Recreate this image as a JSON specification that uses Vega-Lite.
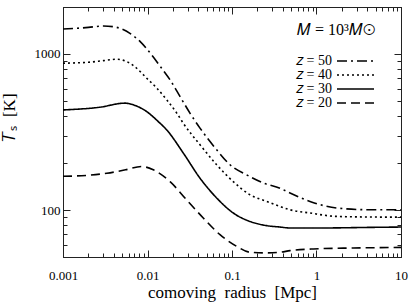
{
  "$schema": "https://vega.github.io/schema/vega-lite/v6.json",
  "width": 338,
  "height": 250,
  "autosize": {"type": "none"},
  "padding": {"left": 63, "top": 7, "right": 8, "bottom": 47},
  "config": {
    "font": "Liberation Serif",
    "view": {"stroke": "#222", "strokeWidth": 1},
    "axis": {"domainColor": "#222", "tickColor": "#222", "labelColor": "black", "titleColor": "black", "labelFontSize": 13, "grid": false, "titleFontWeight": "normal", "labelFont": "Liberation Serif", "titleFont": "Liberation Serif", "tickWidth": 1}
  },
  "data": {
    "values": [
      {"z": "𝑧 = 50", "r": 0.001, "T": 1445}, {"z": "𝑧 = 50", "r": 0.002, "T": 1480}, {"z": "𝑧 = 50", "r": 0.003, "T": 1511}, {"z": "𝑧 = 50", "r": 0.0041, "T": 1490}, {"z": "𝑧 = 50", "r": 0.0062, "T": 1356}, {"z": "𝑧 = 50", "r": 0.0082, "T": 1199}, {"z": "𝑧 = 50", "r": 0.0112, "T": 986}, {"z": "𝑧 = 50", "r": 0.0147, "T": 810}, {"z": "𝑧 = 50", "r": 0.0185, "T": 682}, {"z": "𝑧 = 50", "r": 0.0243, "T": 533}, {"z": "𝑧 = 50", "r": 0.0318, "T": 418}, {"z": "𝑧 = 50", "r": 0.0418, "T": 335}, {"z": "𝑧 = 50", "r": 0.0659, "T": 243}, {"z": "𝑧 = 50", "r": 0.0947, "T": 195}, {"z": "𝑧 = 50", "r": 0.149, "T": 168}, {"z": "𝑧 = 50", "r": 0.235, "T": 149}, {"z": "𝑧 = 50", "r": 0.37, "T": 138}, {"z": "𝑧 = 50", "r": 0.486, "T": 128.5}, {"z": "𝑧 = 50", "r": 0.837, "T": 113.5}, {"z": "𝑧 = 50", "r": 1.73, "T": 103}, {"z": "𝑧 = 50", "r": 4.3, "T": 100.4}, {"z": "𝑧 = 50", "r": 10, "T": 100.4},
      {"z": "𝑧 = 40", "r": 0.001, "T": 873}, {"z": "𝑧 = 40", "r": 0.002, "T": 885}, {"z": "𝑧 = 40", "r": 0.003, "T": 906}, {"z": "𝑧 = 40", "r": 0.0043, "T": 925}, {"z": "𝑧 = 40", "r": 0.0057, "T": 893}, {"z": "𝑧 = 40", "r": 0.00745, "T": 810}, {"z": "𝑧 = 40", "r": 0.0098, "T": 699}, {"z": "𝑧 = 40", "r": 0.0129, "T": 604}, {"z": "𝑧 = 40", "r": 0.0169, "T": 508}, {"z": "𝑧 = 40", "r": 0.0222, "T": 418}, {"z": "𝑧 = 40", "r": 0.0265, "T": 360}, {"z": "𝑧 = 40", "r": 0.0418, "T": 262}, {"z": "𝑧 = 40", "r": 0.0659, "T": 195}, {"z": "𝑧 = 40", "r": 0.1035, "T": 152}, {"z": "𝑧 = 40", "r": 0.163, "T": 125.3}, {"z": "𝑧 = 40", "r": 0.258, "T": 113.5}, {"z": "𝑧 = 40", "r": 0.37, "T": 105.4}, {"z": "𝑧 = 40", "r": 0.486, "T": 100.4}, {"z": "𝑧 = 40", "r": 0.837, "T": 95.7}, {"z": "𝑧 = 40", "r": 1.73, "T": 91}, {"z": "𝑧 = 40", "r": 4.3, "T": 90.2}, {"z": "𝑧 = 40", "r": 10, "T": 90},
      {"z": "𝑧 = 30", "r": 0.001, "T": 438}, {"z": "𝑧 = 30", "r": 0.00274, "T": 456}, {"z": "𝑧 = 30", "r": 0.0054, "T": 484}, {"z": "𝑧 = 30", "r": 0.0068, "T": 472}, {"z": "𝑧 = 30", "r": 0.0098, "T": 427}, {"z": "𝑧 = 30", "r": 0.0134, "T": 369}, {"z": "𝑧 = 30", "r": 0.0169, "T": 326}, {"z": "𝑧 = 30", "r": 0.0265, "T": 232}, {"z": "𝑧 = 30", "r": 0.0418, "T": 160}, {"z": "𝑧 = 30", "r": 0.0659, "T": 119.4}, {"z": "𝑧 = 30", "r": 0.1035, "T": 95.7}, {"z": "𝑧 = 30", "r": 0.163, "T": 84.5}, {"z": "𝑧 = 30", "r": 0.258, "T": 79.4}, {"z": "𝑧 = 30", "r": 0.37, "T": 77.8}, {"z": "𝑧 = 30", "r": 0.486, "T": 76.7}, {"z": "𝑧 = 30", "r": 1.1, "T": 76.7}, {"z": "𝑧 = 30", "r": 4.3, "T": 77.4}, {"z": "𝑧 = 30", "r": 10, "T": 77.8},
      {"z": "𝑧 = 20", "r": 0.001, "T": 164.5}, {"z": "𝑧 = 20", "r": 0.002, "T": 167}, {"z": "𝑧 = 20", "r": 0.0033, "T": 172}, {"z": "𝑧 = 20", "r": 0.0055, "T": 181}, {"z": "𝑧 = 20", "r": 0.0085, "T": 190}, {"z": "𝑧 = 20", "r": 0.0117, "T": 181}, {"z": "𝑧 = 20", "r": 0.0185, "T": 152}, {"z": "𝑧 = 20", "r": 0.0291, "T": 116}, {"z": "𝑧 = 20", "r": 0.0457, "T": 88.9}, {"z": "𝑧 = 20", "r": 0.0721, "T": 69.5}, {"z": "𝑧 = 20", "r": 0.1137, "T": 58.5}, {"z": "𝑧 = 20", "r": 0.163, "T": 53.6}, {"z": "𝑧 = 20", "r": 0.258, "T": 53.1}, {"z": "𝑧 = 20", "r": 0.37, "T": 53.6}, {"z": "𝑧 = 20", "r": 0.486, "T": 54.9}, {"z": "𝑧 = 20", "r": 0.916, "T": 56.3}, {"z": "𝑧 = 20", "r": 2.73, "T": 57.1}, {"z": "𝑧 = 20", "r": 10, "T": 57.6}
    ]
  },
  "layer": [
    {
      "mark": {"type": "line", "interpolate": "monotone", "color": "black", "strokeWidth": 1.6, "strokeCap": "butt"},
      "encoding": {
        "x": {
          "field": "r", "type": "quantitative",
          "scale": {"type": "log", "domain": [0.001, 10], "nice": false},
          "axis": {
            "orient": "bottom",
            "values": [0.001, 0.01, 0.1, 1, 10],
            "format": "~g",
            "tickSize": -7,
            "labelPadding": 19,
            "labelFlush": false,
            "labelOverlap": false,
            "title": "comoving\u00a0 radius\u00a0 [Mpc]",
            "titleFontSize": 17,
            "titlePadding": 2
          }
        },
        "y": {
          "field": "T", "type": "quantitative",
          "scale": {"type": "log", "domain": [50, 2000], "nice": false},
          "axis": {
            "orient": "left",
            "values": [100, 1000],
            "format": "~g",
            "tickSize": -7,
            "labelPadding": 10,
            "labelOverlap": false,
            "title": "𝑇ₛ\u00a0 [K]",
            "titleFontSize": 17,
            "titleX": -45,
            "titleY": 110,
            "titleAlign": "center"
          }
        },
        "strokeDash": {
          "field": "z", "type": "nominal",
          "scale": {"domain": ["𝑧 = 50", "𝑧 = 40", "𝑧 = 30", "𝑧 = 20"], "range": [[10, 4, 2, 4], [2, 3], [1, 0], [9, 5]]},
          "legend": {
            "orient": "none",
            "legendX": 234,
            "legendY": 15,
            "title": "𝑀 = 10³𝑀⊙",
            "titleFontSize": 16,
            "titleFontWeight": "normal",
            "titleFont": "Liberation Serif",
            "titlePadding": 16,
            "symbolType": "M6.6,0H14.0",
            "symbolSize": 100,
            "symbolStrokeWidth": 1.6,
            "symbolStrokeColor": "black",
            "symbolFillColor": "transparent",
            "labelAlign": "right",
            "labelOffset": 21,
            "labelFontSize": 14,
            "labelFont": "Liberation Serif",
            "rowPadding": -3.5
          }
        }
      }
    },
    {
      "mark": {"type": "line", "opacity": 0},
      "encoding": {
        "x": {"field": "r", "type": "quantitative", "axis": {"orient": "top", "values": [0.001, 0.01, 0.1, 1, 10], "labels": false, "title": null, "tickSize": -7}},
        "y": {"field": "T", "type": "quantitative", "axis": {"orient": "right", "values": [100, 1000], "labels": false, "title": null, "tickSize": -7}},
        "detail": {"field": "z", "type": "nominal"}
      }
    },
    {
      "mark": {"type": "line", "opacity": 0},
      "encoding": {
        "x": {"field": "r", "type": "quantitative", "axis": {"orient": "bottom", "values": [0.002,0.003,0.004,0.005,0.006,0.007,0.008,0.009,0.02,0.03,0.04,0.05,0.06,0.07,0.08,0.09,0.2,0.3,0.4,0.5,0.6,0.7,0.8,0.9,2,3,4,5,6,7,8,9], "labels": false, "title": null, "domain": false, "tickSize": -4}},
        "y": {"field": "T", "type": "quantitative", "axis": {"orient": "left", "values": [50,60,70,80,90,200,300,400,500,600,700,800,900,2000], "labels": false, "title": null, "domain": false, "tickSize": -4}},
        "detail": {"field": "z", "type": "nominal"}
      }
    },
    {
      "mark": {"type": "line", "opacity": 0},
      "encoding": {
        "x": {"field": "r", "type": "quantitative", "axis": {"orient": "top", "values": [0.002,0.003,0.004,0.005,0.006,0.007,0.008,0.009,0.02,0.03,0.04,0.05,0.06,0.07,0.08,0.09,0.2,0.3,0.4,0.5,0.6,0.7,0.8,0.9,2,3,4,5,6,7,8,9], "labels": false, "title": null, "domain": false, "tickSize": -4}},
        "y": {"field": "T", "type": "quantitative", "axis": {"orient": "right", "values": [50,60,70,80,90,200,300,400,500,600,700,800,900,2000], "labels": false, "title": null, "domain": false, "tickSize": -4}},
        "detail": {"field": "z", "type": "nominal"}
      }
    }
  ],
  "resolve": {"axis": {"x": "independent", "y": "independent"}}
}
